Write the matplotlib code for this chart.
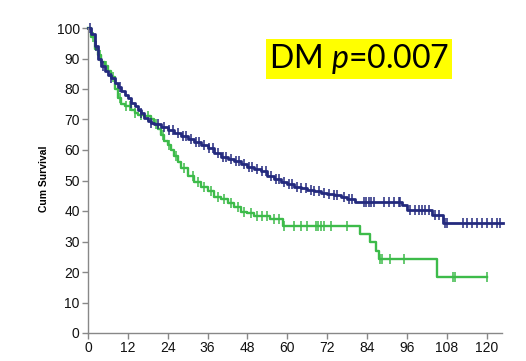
import numpy as np
import matplotlib
matplotlib.use('Agg')
from matplotlib import pyplot as plt

# Kaplan-Meier steps (months, % surviving)
blue_t = [0, 1, 2, 3, 4, 5, 6, 7, 8, 9, 10, 11, 12, 13, 14, 15, 16, 17, 18, 19, 20,
          22, 24, 26, 28, 30, 32, 34, 36, 38, 40, 42, 44, 46, 48, 50, 52, 54, 56, 58,
          60, 62, 64, 66, 68, 70, 72, 74, 76, 78, 80.3, 94.4, 95.9, 103.5, 106.8, 124.8]
blue_s = [100, 98, 94, 90, 87.5, 86, 84.5, 83.5, 82, 80.5, 79.5, 78, 77, 75.5, 74.5, 73, 72, 70.5, 69.5, 69, 68.5,
          67.5, 66.5, 65.5, 64.5, 63.5, 62.5, 61.5, 60.5, 59, 57.8, 57, 56.5, 55.5, 54.5, 53.7, 53, 51.5, 50.5, 49.5,
          48.7, 48, 47.5, 47, 46.5, 46, 45.7, 45.2, 44.6, 44, 43, 42, 40.3, 38.7, 36.2, 36.2]
blue_cens = [0.5, 2.5, 4.5, 7, 9.5, 13, 16, 19, 21, 23, 24.5, 25.5, 27, 28.5, 29.5, 31, 32.5, 33.5,
             35, 36.5, 37.5, 39, 40.5, 41.5, 43, 44.5, 45.5, 47, 48.5, 49.5, 51, 52.5, 53.5, 55,
             56.5, 57.5, 59, 60.5, 61.5, 63, 64, 65.5, 67, 68, 69.5, 71, 72.5, 74, 75, 77, 78.5,
             79.5, 83, 83.8, 84.5, 85.2, 86, 89, 90.5, 92, 93.5, 94, 97, 98.5, 99.5, 100.5, 101.5,
             102.5, 104.5, 105.5, 107.5, 108, 113, 114, 115.5, 117, 118.5, 120, 121.5, 123, 124]

green_t = [0, 1, 2, 3, 4, 5, 6, 7, 8, 9, 10, 11, 13, 14, 15, 17, 19, 20, 21, 22, 23, 24, 25, 26,
           27, 28, 30, 32, 34, 36, 38, 40, 42, 44, 46, 48, 50, 54.7, 58.6, 81.8, 84.8, 86.6,
           87.5, 105, 120]
green_s = [100, 97, 93, 91, 89, 87.5, 86, 84, 80, 77, 75, 74.5, 73, 72, 71.5, 71, 70, 68.5, 67, 65,
           63, 61.5, 60, 58, 56, 54, 51.5, 49.5, 48, 46.5, 44.5, 43.8, 42.5, 41.3, 39.7, 39.3, 38.5,
           37.4, 35, 32.5, 29.8, 27, 24.2, 18.4, 18.4]
green_cens = [1.5, 3.5, 5.5, 7.5, 9.5, 11.5, 12.5, 14, 16, 18, 20.5, 22.5, 24.5, 26.5, 29, 31.5, 33,
              35, 37, 39, 41, 43, 45, 47, 49, 51, 52.5, 54, 56, 57.5, 59, 62, 64, 66, 68.7, 69.3,
              70, 71, 73, 78, 87.8, 88.5, 91, 95, 110, 110.6, 120]

x_ticks = [0, 12, 24, 36, 48, 60, 72, 84, 96, 108, 120]
y_ticks = [0, 10, 20, 30, 40, 50, 60, 70, 80, 90, 100]

plt.rcParams['font.family'] = 'Liberation Sans'
plt.rcParams['mathtext.fontset'] = 'custom'
plt.rcParams['mathtext.it'] = 'Lato:italic'
plt.rcParams['mathtext.rm'] = 'Lato'

blue = '#242a7e'
green = '#3dbb4a'


def surv_at(times, surv, c):
    idx = np.searchsorted(times, c, side='right') - 1
    return np.array(surv)[idx]


fig = plt.figure(figsize=(5.26, 3.61), dpi=100)
ax = fig.add_axes([88/526, 1-333/361, (502-88)/526, (333-28)/361])

for t, s, cens, col, lw in [(green_t, green_s, green_cens, green, 1.7),
                            (blue_t, blue_s, blue_cens, blue, 2.0)]:
    ax.step(t, s, where='post', color=col, lw=lw, clip_on=False)
    ax.plot(cens, surv_at(t, s, cens), ls='none', marker='|', ms=7,
            mew=1.1, color=col, clip_on=False)

ax.set_xlim(0, 124.6)
ax.set_ylim(0, 100)
ax.set_xticks(x_ticks)
ax.set_yticks(y_ticks)
for sp in ['top', 'right']:
    ax.spines[sp].set_visible(False)
for sp in ['left', 'bottom']:
    ax.spines[sp].set_color('#888888')
    ax.spines[sp].set_linewidth(1.0)
ax.tick_params(colors='#888888', labelcolor='#111111', length=4, width=1.0,
               labelsize=10, direction='out', pad=2)

fig.text(44/526, 1-179/361, 'Cum Survival', rotation=90, fontsize=7.5,
         fontweight='bold', ha='center', va='center')

fig.text(359/526, 1-59/361, r'DM $p$=0.007', family='Lato', fontsize=23,
         ha='center', va='center',
         bbox=dict(boxstyle='square,pad=0.1', facecolor='#ffff00', edgecolor='none'))

fig.savefig('out.png', dpi=100)
